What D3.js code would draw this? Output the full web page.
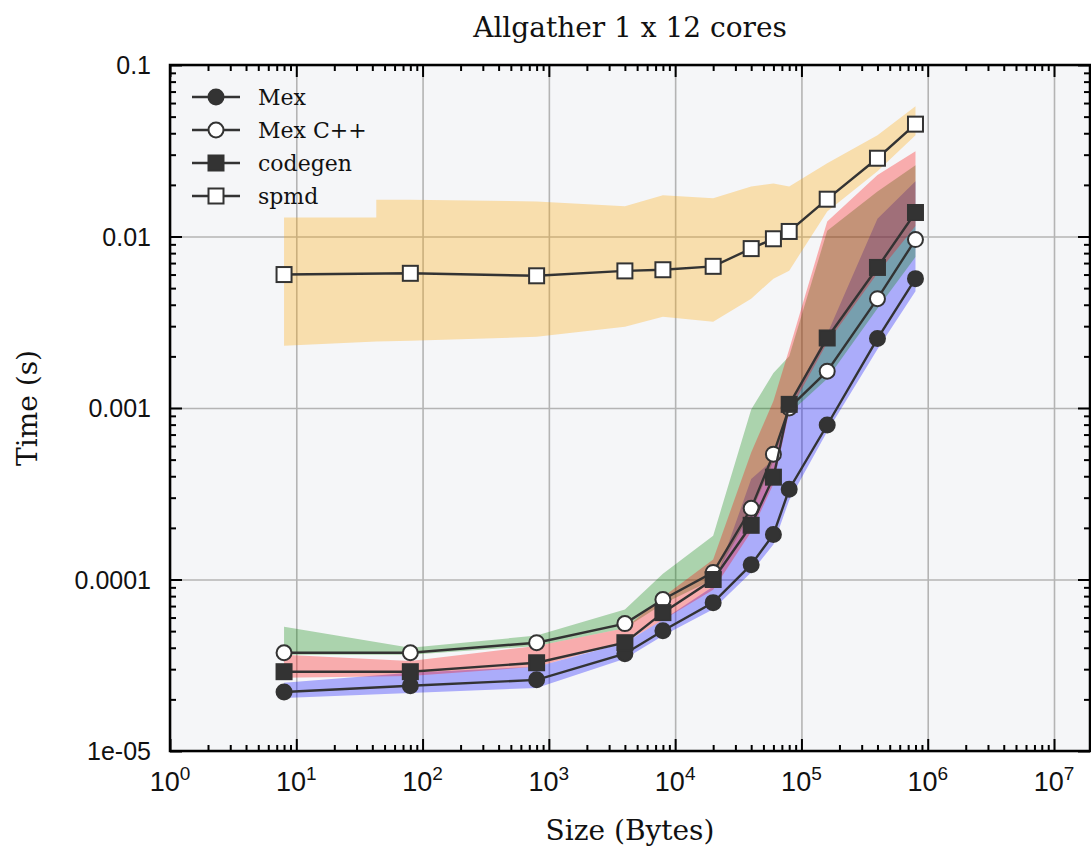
<!DOCTYPE html>
<html>
<head>
<meta charset="utf-8">
<script src="https://cdn.jsdelivr.net/npm/d3@7"></script>
<style>
  html, body { margin: 0; padding: 0; background: #fff; }
  svg { display: block; }
  .serif { font-family: "DejaVu Serif", serif; fill: #111; }
  .tick-label { font-family: "Liberation Sans", Arial, sans-serif; fill: #111; }
</style>
</head>
<body>
<div id="chart"></div>
<script>
// message sizes (bytes)
const sizes = [8, 80, 800, 4000, 8000, 20000, 40000, 60000, 80000, 160000, 400000, 800000];

// mean times (s)
const mex     = [2.21e-5, 2.4e-5, 2.6e-5, 3.69e-5, 5.03e-5, 7.33e-5, 1.22e-4, 1.83e-4, 3.36e-4, 7.96e-4, 2.54e-3, 5.68e-3];
const mexCpp  = [3.74e-5, 3.74e-5, 4.28e-5, 5.53e-5, 7.64e-5, 1.1e-4, 2.6e-4, 5.38e-4, 1.0e-3, 1.64e-3, 4.34e-3, 9.6e-3];
const codegen = [2.9e-5, 2.9e-5, 3.27e-5, 4.28e-5, 6.41e-5, 1.0e-4, 2.07e-4, 3.95e-4, 1.05e-3, 2.56e-3, 6.6e-3, 1.38e-2];
const spmd    = [6.0e-3, 6.1e-3, 5.9e-3, 6.3e-3, 6.4e-3, 6.7e-3, 8.5e-3, 9.7e-3, 1.07e-2, 1.65e-2, 2.86e-2, 4.52e-2];

// min / max envelopes
const mexLo     = [2.04e-5, 2.18e-5, 2.33e-5, 3.45e-5, 4.7e-5, 6.7e-5, 1.1e-4, 1.6e-4, 2.9e-4, 7.3e-4, 2.2e-3, 4.8e-3];
const mexHi     = [2.5e-5, 2.86e-5, 3.1e-5, 4.28e-5, 5.83e-5, 9.1e-5, 3.85e-4, 5.0e-4, 1.05e-3, 2.7e-3, 1.27e-2, 2.1e-2];
const mexCppLo  = [3.64e-5, 3.64e-5, 4.1e-5, 5.2e-5, 7.2e-5, 1.0e-4, 2.45e-4, 4.9e-4, 9.3e-4, 1.48e-3, 3.8e-3, 7.6e-3];
const mexCppHi  = [5.3e-5, 4.0e-5, 4.71e-5, 6.68e-5, 1.08e-4, 1.8e-4, 9.8e-4, 1.6e-3, 2.0e-3, 1.08e-2, 1.83e-2, 2.6e-2];
const codegenLo = [2.67e-5, 2.74e-5, 3.1e-5, 4.3e-5, 5.8e-5, 8.7e-5, 1.9e-4, 3.6e-4, 9.5e-4, 2.4e-3, 6.1e-3, 1.15e-2];
const codegenHi = [3.64e-5, 3.35e-5, 4.1e-5, 5.2e-5, 7.9e-5, 1.31e-4, 5.5e-4, 1.1e-3, 2.2e-3, 1.225e-2, 2.28e-2, 3.14e-2];

// spmd envelope has a step near 43 bytes, so it keeps its own sizes
const spmdBandSizes = [8, 43, 43, 80, 800, 4000, 8000, 20000, 40000, 60000, 80000, 160000, 400000, 800000];
const spmdLo = [2.31e-3, 2.44e-3, 2.44e-3, 2.47e-3, 2.6e-3, 2.98e-3, 3.4e-3, 3.18e-3, 4.34e-3, 5.68e-3, 6.32e-3, 1.4e-2, 2.4e-2, 3.9e-2];
const spmdHi = [1.29e-2, 1.29e-2, 1.64e-2, 1.64e-2, 1.6e-2, 1.5e-2, 1.74e-2, 1.67e-2, 1.96e-2, 2.04e-2, 1.96e-2, 2.67e-2, 3.9e-2, 5.75e-2];

const yTickValues = [1e-5, 1e-4, 1e-3, 1e-2, 1e-1];
const yTickLabels = ["1e-05", "0.0001", "0.001", "0.01", "0.1"];
const xDecades = [0, 1, 2, 3, 4, 5, 6, 7];

const series = [
  { name: "Mex",     mean: mex,     lo: mexLo,     hi: mexHi,     band: "rgba(0,0,255,0.3)",   marker: "circle", fill: "#333" },
  { name: "Mex C++", mean: mexCpp,  lo: mexCppLo,  hi: mexCppHi,  band: "rgba(0,128,0,0.3)",   marker: "circle", fill: "#fff" },
  { name: "codegen", mean: codegen, lo: codegenLo, hi: codegenHi, band: "rgba(255,0,0,0.3)",   marker: "square", fill: "#333" },
  { name: "spmd",    mean: spmd,    lo: spmdLo,    hi: spmdHi,    band: "rgba(255,165,0,0.3)", marker: "square", fill: "#fff", bandX: spmdBandSizes }
];

const W = 1091, H = 847;
const L = 170, R = 1090, T = 65, B = 751;
const INK = "#333";

const svg = d3.select("#chart").append("svg").attr("width", W).attr("height", H);

const x = d3.scaleLog().domain([1, Math.pow(10, 7.285)]).range([L, R]);
const y = d3.scaleLog().domain([1e-5, 0.1]).range([B, T]);

// plot background
svg.append("rect").attr("x", L).attr("y", T).attr("width", R - L).attr("height", B - T).attr("fill", "#f5f6f8");

// grid
const xMajor = xDecades.map(d => Math.pow(10, d));
svg.append("g").attr("transform", `translate(0,${B})`)
  .call(d3.axisBottom(x).tickValues(xMajor).tickSize(-(B - T)).tickFormat(""))
  .call(g => g.select(".domain").remove())
  .call(g => g.selectAll("line").attr("stroke", "#b4b4b4").attr("stroke-width", 1.6));
svg.append("g").attr("transform", `translate(${L},0)`)
  .call(d3.axisLeft(y).tickValues(yTickValues).tickSize(-(R - L)).tickFormat(""))
  .call(g => g.select(".domain").remove())
  .call(g => g.selectAll("line").attr("stroke", "#b4b4b4").attr("stroke-width", 1.6));

// envelopes
const plot = svg.append("g");
series.forEach(s => {
  const xs = s.bandX || sizes;
  const pts = xs.map((v, i) => ({ x: v, lo: s.lo[i], hi: s.hi[i] }));
  const area = d3.area().x(d => x(d.x)).y0(d => y(d.lo)).y1(d => y(d.hi));
  plot.append("path").datum(pts).attr("d", area).attr("fill", s.band).attr("stroke", "none");
});

// lines and markers
const line = d3.line().x(d => x(d.x)).y(d => y(d.v));
series.forEach(s => {
  const pts = sizes.map((v, i) => ({ x: v, v: s.mean[i] }));
  plot.append("path").datum(pts).attr("d", line)
    .attr("fill", "none").attr("stroke", INK).attr("stroke-width", 2.4);
  drawMarkers(plot, pts.map(d => [x(d.x), y(d.v)]), s);
});

function drawMarkers(g, xy, s) {
  if (s.marker === "circle") {
    g.selectAll(null).data(xy).join("circle")
      .attr("cx", d => d[0]).attr("cy", d => d[1]).attr("r", 7.5)
      .attr("fill", s.fill).attr("stroke", INK).attr("stroke-width", 2);
  } else {
    const a = 15;
    g.selectAll(null).data(xy).join("rect")
      .attr("x", d => d[0] - a / 2).attr("y", d => d[1] - a / 2).attr("width", a).attr("height", a)
      .attr("fill", s.fill).attr("stroke", INK).attr("stroke-width", 2);
  }
}

// ticks (inward, all four sides)
const xMinor = x.ticks().filter(v => !xMajor.includes(v));
const yMinor = y.ticks().filter(v => !yTickValues.includes(v));
function tickStyle(g) {
  g.select(".domain").remove();
  g.selectAll("line").attr("stroke", "#000").attr("stroke-width", 2);
}
[[d3.axisBottom, B], [d3.axisTop, T]].forEach(([ax, pos]) => {
  svg.append("g").attr("transform", `translate(0,${pos})`)
    .call(ax(x).tickValues(xMajor).tickSize(-12).tickFormat("")).call(tickStyle);
  svg.append("g").attr("transform", `translate(0,${pos})`)
    .call(ax(x).tickValues(xMinor).tickSize(-6).tickFormat("")).call(tickStyle);
});
[[d3.axisLeft, L], [d3.axisRight, R]].forEach(([ax, pos]) => {
  svg.append("g").attr("transform", `translate(${pos},0)`)
    .call(ax(y).tickValues(yTickValues).tickSize(-12).tickFormat("")).call(tickStyle);
  svg.append("g").attr("transform", `translate(${pos},0)`)
    .call(ax(y).tickValues(yMinor).tickSize(-6).tickFormat("")).call(tickStyle);
});

// frame
svg.append("rect").attr("x", L).attr("y", T).attr("width", R - L).attr("height", B - T)
  .attr("fill", "none").attr("stroke", "#000").attr("stroke-width", 2.5);

// y tick labels
svg.append("g").selectAll("text").data(yTickValues).join("text")
  .attr("class", "tick-label")
  .attr("x", 151).attr("y", d => y(d)).attr("dy", "0.36em")
  .attr("text-anchor", "end").attr("font-size", 25)
  .text((d, i) => yTickLabels[i]);

// x tick labels (10^n)
const xl = svg.append("g").selectAll("text").data(xDecades).join("text")
  .attr("class", "tick-label")
  .attr("x", d => x(Math.pow(10, d))).attr("y", 791)
  .attr("text-anchor", "middle").attr("font-size", 27);
xl.append("tspan").text("10");
xl.append("tspan").attr("dy", -11).attr("font-size", 19).text(d => d);

// titles
svg.append("text").attr("class", "serif")
  .attr("x", (L + R) / 2).attr("y", 37).attr("text-anchor", "middle").attr("font-size", 28)
  .text("Allgather 1 x 12 cores");
svg.append("text").attr("class", "serif")
  .attr("x", (L + R) / 2).attr("y", 840).attr("text-anchor", "middle").attr("font-size", 28)
  .text("Size (Bytes)");
svg.append("text").attr("class", "serif")
  .attr("transform", `translate(37,${(T + B) / 2}) rotate(-90)`)
  .attr("text-anchor", "middle").attr("font-size", 28)
  .text("Time (s)");

// legend
const legend = svg.append("g");
series.forEach((s, i) => {
  const ly = 97 + i * 33;
  legend.append("line").attr("x1", 192).attr("x2", 240).attr("y1", ly).attr("y2", ly)
    .attr("stroke", INK).attr("stroke-width", 2.4);
  drawMarkers(legend, [[216, ly]], s);
  legend.append("text").attr("class", "serif")
    .attr("x", 258).attr("y", ly).attr("dy", "0.35em").attr("font-size", 22)
    .text(s.name);
});
</script>
</body>
</html>
